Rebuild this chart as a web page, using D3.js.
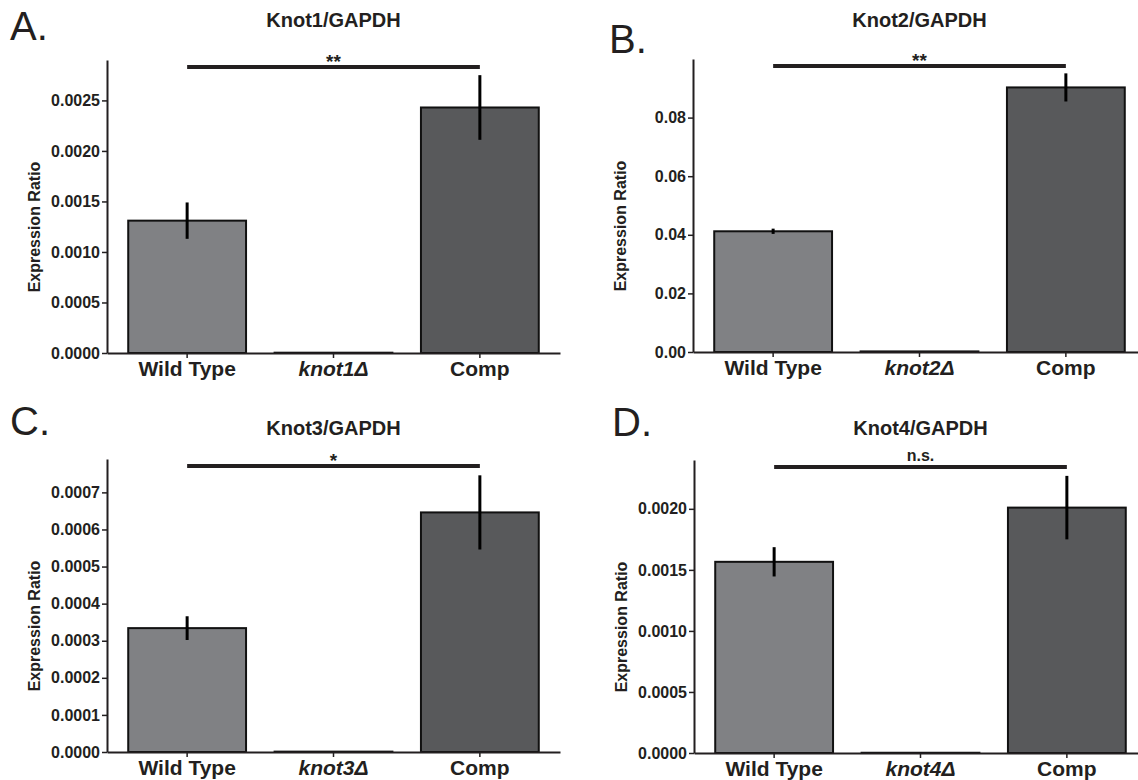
<!DOCTYPE html>
<html>
<head>
<meta charset="utf-8">
<script src="https://cdn.jsdelivr.net/npm/d3@7"></script>
<style>
  body { margin: 0; background: #fff; }
  svg text { font-family: "Liberation Sans", Arial, sans-serif; fill: #231f20; }
</style>
</head>
<body>
<svg class="chart" width="1138" height="780"></svg>
<script>
// values
var panelLetters = ["A.", "B.", "C.", "D."];
var titles = ["Knot1/GAPDH", "Knot2/GAPDH", "Knot3/GAPDH", "Knot4/GAPDH"];
var groupLabels = [
    ["Wild Type", "knot1Δ", "Comp"],
    ["Wild Type", "knot2Δ", "Comp"],
    ["Wild Type", "knot3Δ", "Comp"],
    ["Wild Type", "knot4Δ", "Comp"]
];
var means = [
    [0.00131, 0.000003, 0.00243],
    [0.0412, 0.0002, 0.0903],
    [0.000334, 0.000001, 0.000646],
    [0.001566, 0.000002, 0.00201]
];
var errors = [
    [0.00018, 0, 0.00032],
    [0.0009, 0, 0.0048],
    [0.000032, 0, 0.0001],
    [0.00012, 0, 0.00026]
];
var yMax = [0.0029, 0.1, 0.00079, 0.0024];
var yTicks = [
    [0, 0.0005, 0.0010, 0.0015, 0.0020, 0.0025],
    [0, 0.02, 0.04, 0.06, 0.08],
    [0, 0.0001, 0.0002, 0.0003, 0.0004, 0.0005, 0.0006, 0.0007],
    [0, 0.0005, 0.0010, 0.0015, 0.0020]
];
var tickFormats = [".4f", ".2f", ".4f", ".4f"];
var significance = ["**", "**", "*", "n.s."];
var yLabel = "Expression Ratio";

var fills = ["#808184", "#808184", "#58595b"];

// where each panel sits: axis corner (top of y axis), letter spot, title offset
var layout = [
    {x: 107, y: 60, lx: 10, ly: 40, ty: -33},
    {x: 693, y: 59, lx: 609, ly: 53, ty: -32},
    {x: 107, y: 459, lx: 10, ly: 435, ty: -24},
    {x: 694, y: 460, lx: 612, ly: 436, ty: -25}
];
var width = 453, height = 293;

var svg = d3.select('.chart');

for (var p = 0; p < 4; p++) {
    drawPanel(p);
}

function drawPanel(p) {
    var pos = layout[p];

    svg.append("text")
        .attr("x", pos.lx)
        .attr("y", pos.ly)
        .style("font-size", "40px")
        .text(panelLetters[p]);

    var main = svg.append("g")
        .attr("transform", "translate(" + pos.x + "," + pos.y + ")");

    var x = d3.scaleBand()
        .domain(groupLabels[p])
        .range([0, width])
        .paddingInner(0.195)
        .paddingOuter(0.145);

    var y = d3.scaleLinear()
        .domain([0, yMax[p]])
        .range([height, 0]);

    // title
    main.append("text")
        .attr("x", width / 2)
        .attr("y", pos.ty)
        .attr("text-anchor", "middle")
        .style("font-size", "20px")
        .style("font-weight", "bold")
        .text(titles[p]);

    // bars
    var rows = groupLabels[p].map(function (c, i) {
        return {cat: c, v: means[p][i], e: errors[p][i], i: i};
    });

    main.selectAll("rect.bar")
        .data(rows)
        .enter().append("rect")
        .attr("class", "bar")
        .attr("x", function (d) { return x(d.cat); })
        .attr("width", x.bandwidth())
        .attr("y", function (d) { return y(d.v); })
        .attr("height", function (d) { return y(0) - y(d.v); })
        .style("fill", function (d) { return fills[d.i]; })
        .style("stroke", "#111")
        .style("stroke-width", 2);

    // error bars
    main.selectAll("line.err")
        .data(rows.filter(function (d) { return d.e > 0; }))
        .enter().append("line")
        .attr("class", "err")
        .attr("x1", function (d) { return x(d.cat) + x.bandwidth() / 2; })
        .attr("x2", function (d) { return x(d.cat) + x.bandwidth() / 2; })
        .attr("y1", function (d) { return y(d.v + d.e); })
        .attr("y2", function (d) { return y(d.v - d.e); })
        .style("stroke", "#000")
        .style("stroke-width", 3);

    // y axis
    var yAxis = d3.axisLeft(y)
        .tickValues(yTicks[p])
        .tickFormat(d3.format(tickFormats[p]))
        .tickSizeInner(5)
        .tickSizeOuter(0)
        .tickPadding(2);

    var ga = main.append("g").call(yAxis);
    ga.select(".domain").style("stroke", "#231f20").style("stroke-width", 2);
    ga.selectAll(".tick line").style("stroke", "#231f20").style("stroke-width", 1.5);
    ga.selectAll(".tick text")
        .style("font-size", "16px")
        .style("font-weight", "bold")
        .style("font-family", "Liberation Sans, Arial, sans-serif")
        .style("fill", "#231f20");

    // x axis
    var xAxis = d3.axisBottom(x)
        .tickSizeInner(5)
        .tickSizeOuter(0)
        .tickPadding(6);

    var gx = main.append("g")
        .attr("transform", "translate(0," + height + ")")
        .call(xAxis);
    gx.select(".domain").style("stroke", "#231f20").style("stroke-width", 2);
    gx.selectAll(".tick line").style("stroke", "#231f20").style("stroke-width", 1.5);
    gx.selectAll(".tick text")
        .attr("y", 8)
        .style("font-size", "21px")
        .style("font-weight", "bold")
        .style("font-family", "Liberation Sans, Arial, sans-serif")
        .style("fill", "#231f20")
        .style("font-style", function (d, i) { return i == 1 ? "italic" : "normal"; });

    // axis label
    main.append("text")
        .attr("transform", "translate(-67," + (height - 126) + ") rotate(-90)")
        .attr("text-anchor", "middle")
        .style("font-size", "16px")
        .style("font-weight", "bold")
        .text(yLabel);

    // significance bracket between Wild Type and Comp
    var x1 = x(groupLabels[p][0]) + x.bandwidth() / 2;
    var x2 = x(groupLabels[p][2]) + x.bandwidth() / 2;
    var by = y(yMax[p]) + 7;
    main.append("line")
        .attr("x1", x1).attr("x2", x2)
        .attr("y1", by).attr("y2", by)
        .style("stroke", "#231f20")
        .style("stroke-width", 4);
    var ns = significance[p] == "n.s.";
    main.append("text")
        .attr("x", (x1 + x2) / 2)
        .attr("y", ns ? by - 6 : by + 1)
        .attr("text-anchor", "middle")
        .style("font-size", ns ? "16px" : "19px")
        .style("font-weight", "bold")
        .text(significance[p]);
}
</script>
</body>
</html>
